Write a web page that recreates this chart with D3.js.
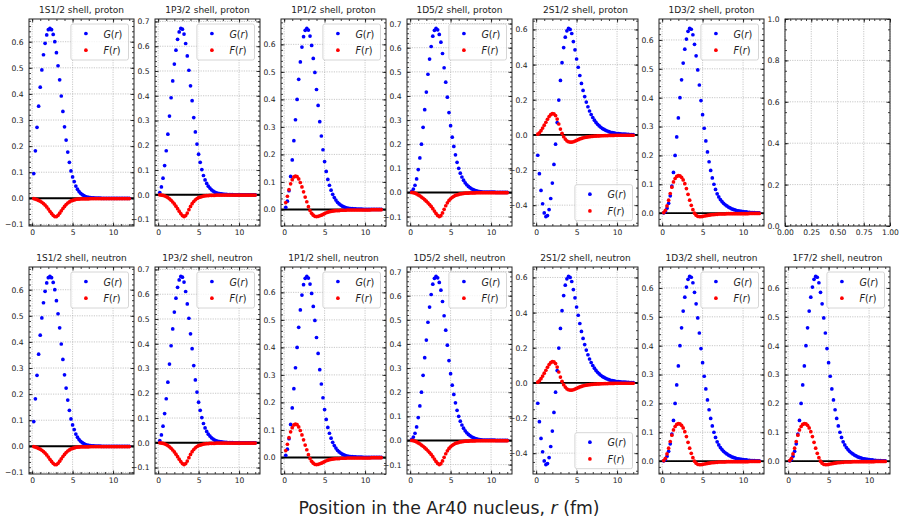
<!DOCTYPE html>
<html>
<head>
<meta charset="utf-8">
<script src="https://cdn.jsdelivr.net/npm/d3@7"></script>
<style>
  body { margin: 0; background: #fff; }
  svg { display: block; }
  text { font-family: "DejaVu Sans", sans-serif; fill: #222; }
</style>
</head>
<body>
<svg id="chart" width="901" height="518"></svg>
<script>
// radial grid (fm)
const r = [0.2,0.4,0.6,0.8,1.0,1.2,1.4,1.6,1.8,2.0,
  2.2,2.4,2.6,2.8,3.0,3.2,3.4,3.6,3.8,4.0,
  4.2,4.4,4.6,4.8,5.0,5.2,5.4,5.6,5.8,6.0,
  6.2,6.4,6.6,6.8,7.0,7.2,7.4,7.6,7.8,8.0,
  8.2,8.4,8.6,8.8,9.0,9.2,9.4,9.6,9.8,10.0,
  10.2,10.4,10.6,10.8,11.0,11.2,11.4,11.6,11.8,12.0];

// 1S1/2
const g1s12 = [0.095,0.182,0.272,0.353,0.426,0.492,0.550,0.594,0.626,0.646,
  0.651,0.646,0.628,0.600,0.558,0.508,0.454,0.392,0.333,0.274,
  0.223,0.177,0.138,0.105,0.082,0.064,0.047,0.035,0.026,0.019,
  0.014,0.010,0.007,0.005,0.004,0.003,0.002,0.002,0.001,0.001,
  0.001,0.001,0,0,0,0,0,0,0,0,
  0,0,0,0,0,0,0,0,0,0];
const f1s12 = [-0.001,-0.003,-0.005,-0.008,-0.011,-0.015,-0.020,-0.026,-0.033,-0.041,
  -0.050,-0.058,-0.065,-0.070,-0.070,-0.065,-0.057,-0.048,-0.039,-0.031,
  -0.024,-0.018,-0.014,-0.010,-0.008,-0.006,-0.004,-0.003,-0.003,-0.002,
  -0.002,-0.002,-0.002,-0.002,-0.002,-0.001,-0.001,-0.001,-0.001,-0.001,
  -0.001,-0.001,-0.001,-0.001,-0.001,-0.001,-0.001,-0.001,-0.001,-0.001,
  -0.001,-0.001,-0.001,-0.001,-0.001,-0.001,-0.001,-0.001,-0.001,-0.001];

// 1P3/2
const g1p32 = [0.009,0.032,0.067,0.118,0.178,0.245,0.318,0.392,0.460,0.528,
  0.584,0.628,0.658,0.672,0.669,0.649,0.611,0.561,0.503,0.440,
  0.380,0.312,0.254,0.205,0.164,0.131,0.102,0.078,0.060,0.046,
  0.035,0.027,0.020,0.015,0.011,0.008,0.006,0.005,0.004,0.003,
  0.002,0.002,0.001,0.001,0.001,0.001,0,0,0,0,
  0,0,0,0,0,0,0,0,0,0];
const f1p32 = [0,-0.001,-0.002,-0.004,-0.007,-0.011,-0.016,-0.022,-0.029,-0.037,
  -0.046,-0.056,-0.066,-0.076,-0.084,-0.088,-0.084,-0.074,-0.060,-0.047,
  -0.036,-0.027,-0.020,-0.015,-0.011,-0.009,-0.007,-0.005,-0.004,-0.003,
  -0.003,-0.002,-0.002,-0.002,-0.002,-0.001,-0.001,-0.001,-0.001,-0.001,
  -0.001,-0.001,-0.001,-0.001,-0.001,-0.001,-0.001,-0.001,-0.001,-0.001,
  -0.001,-0.001,-0.001,-0.001,-0.001,-0.001,-0.001,-0.001,-0.001,-0.001];

// 1P1/2
const g1p12 = [0.008,0.030,0.068,0.120,0.180,0.250,0.326,0.400,0.473,0.536,
  0.590,0.628,0.651,0.658,0.652,0.630,0.596,0.549,0.498,0.436,
  0.378,0.319,0.267,0.217,0.174,0.138,0.109,0.088,0.070,0.055,
  0.043,0.034,0.026,0.020,0.016,0.012,0.009,0.007,0.005,0.004,
  0.003,0.003,0.002,0.002,0.001,0.001,0.001,0.001,0,0,
  0,0,0,0,0,0,0,0,0,0];
const f1p12 = [0.025,0.048,0.072,0.093,0.108,0.118,0.121,0.119,0.111,0.098,
  0.082,0.064,0.045,0.028,0.010,-0.004,-0.014,-0.021,-0.025,-0.026,
  -0.025,-0.023,-0.021,-0.018,-0.015,-0.012,-0.010,-0.008,-0.007,-0.006,
  -0.005,-0.004,-0.004,-0.004,-0.003,-0.003,-0.003,-0.003,-0.002,-0.002,
  -0.002,-0.002,-0.002,-0.002,-0.002,-0.002,-0.002,-0.002,-0.002,-0.002,
  -0.002,-0.002,-0.002,-0.001,-0.001,-0.001,-0.001,-0.001,-0.001,-0.001];

// 1D5/2
const g1d52 = [0.005,0.014,0.030,0.056,0.095,0.143,0.200,0.270,0.343,0.416,
  0.490,0.553,0.605,0.648,0.672,0.680,0.674,0.655,0.623,0.576,
  0.517,0.457,0.395,0.331,0.277,0.229,0.191,0.156,0.125,0.100,
  0.080,0.064,0.051,0.040,0.032,0.025,0.020,0.015,0.012,0.009,
  0.007,0.005,0.004,0.003,0.002,0.002,0.002,0.001,0.001,0.001,
  0.001,0.001,0,0,0,0,0,0,0,0];
const f1d52 = [0,-0.001,-0.003,-0.006,-0.010,-0.014,-0.019,-0.024,-0.030,-0.036,
  -0.043,-0.050,-0.058,-0.067,-0.077,-0.087,-0.095,-0.100,-0.096,-0.085,
  -0.070,-0.055,-0.043,-0.033,-0.026,-0.020,-0.016,-0.012,-0.010,-0.008,
  -0.006,-0.005,-0.004,-0.003,-0.003,-0.003,-0.002,-0.002,-0.002,-0.002,
  -0.001,-0.001,-0.001,-0.001,-0.001,-0.001,-0.001,-0.001,-0.001,-0.001,
  -0.001,-0.001,-0.001,-0.001,-0.001,-0.001,-0.001,-0.001,-0.001,-0.001];

// 2S1/2
const g2s12 = [-0.116,-0.221,-0.316,-0.392,-0.444,-0.465,-0.459,-0.425,-0.362,-0.274,
  -0.168,-0.053,0.070,0.198,0.310,0.411,0.497,0.556,0.592,0.606,
  0.600,0.577,0.531,0.484,0.432,0.385,0.338,0.293,0.253,0.218,
  0.187,0.160,0.136,0.116,0.099,0.084,0.071,0.060,0.051,0.043,
  0.036,0.031,0.026,0.022,0.018,0.015,0.013,0.011,0.009,0.008,
  0.007,0.006,0.005,0.004,0.004,0.003,0.003,0.002,0.002,0.002];
const f2s12 = [0.004,0.012,0.024,0.039,0.055,0.072,0.089,0.104,0.115,0.121,
  0.120,0.110,0.090,0.062,0.033,0.009,-0.010,-0.024,-0.034,-0.039,
  -0.041,-0.041,-0.039,-0.035,-0.031,-0.027,-0.023,-0.020,-0.017,-0.015,
  -0.013,-0.011,-0.010,-0.009,-0.008,-0.007,-0.007,-0.006,-0.006,-0.005,
  -0.005,-0.004,-0.004,-0.004,-0.003,-0.003,-0.003,-0.003,-0.002,-0.002,
  -0.002,-0.002,-0.002,-0.002,-0.002,-0.002,-0.002,-0.002,-0.002,-0.002];

// 1D3/2
const g1d32 = [0.001,0.006,0.017,0.034,0.060,0.094,0.141,0.200,0.264,0.330,
  0.400,0.462,0.520,0.568,0.603,0.630,0.640,0.637,0.618,0.585,
  0.545,0.496,0.444,0.390,0.341,0.294,0.250,0.212,0.178,0.148,
  0.122,0.100,0.082,0.067,0.056,0.047,0.040,0.034,0.029,0.025,
  0.021,0.018,0.015,0.013,0.011,0.009,0.008,0.007,0.006,0.005,
  0.004,0.004,0.003,0.003,0.002,0.002,0.002,0.001,0.001,0.001];
const f1d32 = [0.002,0.010,0.025,0.045,0.068,0.090,0.108,0.120,0.127,0.130,
  0.129,0.124,0.115,0.102,0.085,0.065,0.045,0.027,0.012,0.000,
  -0.007,-0.011,-0.012,-0.012,-0.011,-0.010,-0.009,-0.008,-0.007,-0.006,
  -0.005,-0.005,-0.004,-0.004,-0.003,-0.003,-0.003,-0.003,-0.003,-0.002,
  -0.002,-0.002,-0.002,-0.002,-0.002,-0.002,-0.002,-0.002,-0.002,-0.002,
  -0.002,-0.002,-0.002,-0.001,-0.001,-0.001,-0.001,-0.001,-0.001,-0.001];

// panels: proton row has an empty 7th axes, neutron row has 1F7/2
// (the neutron curves read the same as the proton ones; 1F7/2 repeats 1D3/2)
const protonShells = ["1S1/2", "1P3/2", "1P1/2", "1D5/2", "2S1/2", "1D3/2"];
const neutronShells = ["1S1/2", "1P3/2", "1P1/2", "1D5/2", "2S1/2", "1D3/2", "1F7/2"];
const protonG = [g1s12, g1p32, g1p12, g1d52, g2s12, g1d32];
const protonF = [f1s12, f1p32, f1p12, f1d52, f2s12, f1d32];
const neutronG = [g1s12, g1p32, g1p12, g1d52, g2s12, g1d32, g1d32];
const neutronF = [f1s12, f1p32, f1p12, f1d52, f2s12, f1d32, f1d32];
const yStepByShell = { "2S1/2": 0.2 };
const legendLowerShells = ["2S1/2"];

const xTickValues = [0, 5, 10];
const emptyXTicks = [0, 0.25, 0.5, 0.75, 1.0];
const emptyYTicks = [0, 0.2, 0.4, 0.6, 0.8, 1.0];

const xLabel = "Position in the Ar40 nucleus, ";

// layout
const colLeft0 = 29, colStep = 126, plotW = 105, plotH = 207;
const rowTops = [19, 267];
const dotR = 1.85;

const svg = d3.select("#chart");

function padded(lo, hi) {
  const m = (hi - lo) * 0.05;
  return [lo - m, hi + m];
}

function stepTicks(domain, step) {
  const out = [];
  const start = Math.ceil(domain[0] / step - 1e-9);
  for (let k = start; k * step <= domain[1] + 1e-9; k++) out.push(+(k * step).toFixed(6));
  return out;
}

function styleAxis(sel, fontSize) {
  sel.select(".domain").remove();
  sel.selectAll(".tick line").attr("stroke", "#111").attr("stroke-width", 0.8);
  sel.attr("font-family", null).attr("font-size", null);
  sel.selectAll("text").attr("font-size", fontSize).attr("fill", "#222");
}

function drawAxes(g, x, y, xMajor, xMinor, yMajor, yMinor, xFmt, yFmt) {
  // grid
  g.append("g").selectAll("line").data(xMajor).join("line")
    .attr("x1", d => x(d)).attr("x2", d => x(d))
    .attr("y1", 0).attr("y2", plotH)
    .attr("stroke", "#b0b0b0").attr("stroke-width", 0.7).attr("stroke-dasharray", "1.2,1.2");
  g.append("g").selectAll("line").data(yMajor).join("line")
    .attr("y1", d => y(d)).attr("y2", d => y(d))
    .attr("x1", 0).attr("x2", plotW)
    .attr("stroke", "#b0b0b0").attr("stroke-width", 0.7).attr("stroke-dasharray", "1.2,1.2");

  const ax = [
    [d3.axisBottom(x).tickValues(xMajor).tickFormat(xFmt).tickSizeInner(-3.5).tickPadding(3.5), `translate(0,${plotH})`],
    [d3.axisBottom(x).tickValues(xMinor).tickFormat("").tickSizeInner(-2), `translate(0,${plotH})`],
    [d3.axisTop(x).tickValues(xMajor).tickFormat("").tickSizeInner(-3.5), "translate(0,0)"],
    [d3.axisTop(x).tickValues(xMinor).tickFormat("").tickSizeInner(-2), "translate(0,0)"],
    [d3.axisLeft(y).tickValues(yMajor).tickFormat(yFmt).tickSizeInner(-3.5).tickPadding(5.5), "translate(0,0)"],
    [d3.axisLeft(y).tickValues(yMinor).tickFormat("").tickSizeInner(-2), "translate(0,0)"],
    [d3.axisRight(y).tickValues(yMajor).tickFormat("").tickSizeInner(-3.5), `translate(${plotW},0)`],
    [d3.axisRight(y).tickValues(yMinor).tickFormat("").tickSizeInner(-2), `translate(${plotW},0)`]
  ];
  ax.forEach(([axis, tr]) => {
    g.append("g").attr("transform", tr).call(axis.tickSizeOuter(0)).call(s => styleAxis(s, 7.6));
  });
}

function drawFrame(g) {
  g.append("rect").attr("width", plotW).attr("height", plotH)
    .attr("fill", "none").attr("stroke", "#222").attr("stroke-width", 1);
}

function drawTitle(g, text) {
  g.append("text").attr("x", plotW / 2).attr("y", -6)
    .attr("text-anchor", "middle").attr("font-size", 9).text(text);
}

function drawLegend(g, lower) {
  const lw = 57.6, lh = 36;
  const lg = g.append("g")
    .attr("transform", `translate(${plotW - 5.5 - lw},${lower ? plotH - 5.3 - lh : 5})`);
  lg.append("rect").attr("width", lw).attr("height", lh).attr("rx", 2)
    .attr("fill", "#fff").attr("fill-opacity", 0.8)
    .attr("stroke", "#cccccc").attr("stroke-width", 0.8);
  const entries = [{ c: "blue", s: "G" }, { c: "red", s: "F" }];
  entries.forEach((e, i) => {
    const cy = 9.5 + i * 16.7;
    lg.append("circle").attr("cx", 15).attr("cy", cy).attr("r", dotR).attr("fill", e.c);
    const t = lg.append("text").attr("x", 32.5).attr("y", cy)
      .attr("dominant-baseline", "central").attr("font-size", 9.6);
    t.append("tspan").attr("font-style", "italic").text(e.s);
    t.append("tspan").text("(");
    t.append("tspan").attr("font-style", "italic").text("r");
    t.append("tspan").text(")");
  });
}

function drawPanel(col, row, shell, nucleon, G, F) {
  const g = svg.append("g")
    .attr("transform", `translate(${colLeft0 + col * colStep},${rowTops[row]})`);

  const x = d3.scaleLinear().domain(padded(d3.min(r), d3.max(r))).range([0, plotW]);
  const all = G.concat(F);
  const y = d3.scaleLinear().domain(padded(d3.min(all), d3.max(all))).range([plotH, 0]);

  const yStep = yStepByShell[shell] || 0.1;
  const yMajor = stepTicks(y.domain(), yStep);
  const yMinor = stepTicks(y.domain(), yStep === 0.2 ? 0.05 : 0.02);
  const xMinor = stepTicks(x.domain(), 1);

  drawAxes(g, x, y, xTickValues, xMinor, yMajor, yMinor, d3.format("d"), d3.format(".1f"));

  g.append("line").attr("x1", 0).attr("x2", plotW)
    .attr("y1", y(0)).attr("y2", y(0))
    .attr("stroke", "#000").attr("stroke-width", 1.9);

  g.append("g").selectAll("circle").data(d3.zip(r, G)).join("circle")
    .attr("cx", d => x(d[0])).attr("cy", d => y(d[1])).attr("r", dotR).attr("fill", "blue");
  g.append("g").selectAll("circle").data(d3.zip(r, F)).join("circle")
    .attr("cx", d => x(d[0])).attr("cy", d => y(d[1])).attr("r", dotR).attr("fill", "red");

  drawFrame(g);
  drawTitle(g, `${shell} shell, ${nucleon}`);
  drawLegend(g, legendLowerShells.includes(shell));
}

function drawEmptyPanel(col, row) {
  const g = svg.append("g")
    .attr("transform", `translate(${colLeft0 + col * colStep},${rowTops[row]})`);
  const x = d3.scaleLinear().domain([0, 1]).range([0, plotW]);
  const y = d3.scaleLinear().domain([0, 1]).range([plotH, 0]);
  drawAxes(g, x, y, emptyXTicks, stepTicks([0, 1], 0.05), emptyYTicks, stepTicks([0, 1], 0.05),
    d3.format(".2f"), d3.format(".1f"));
  drawFrame(g);
}

protonShells.forEach((s, i) => drawPanel(i, 0, s, "proton", protonG[i], protonF[i]));
drawEmptyPanel(6, 0);
neutronShells.forEach((s, i) => drawPanel(i, 1, s, "neutron", neutronG[i], neutronF[i]));

// shared x label
const lab = svg.append("text").attr("x", 449).attr("y", 514)
  .attr("text-anchor", "middle").attr("font-size", 17.3);
lab.append("tspan").text(xLabel);
lab.append("tspan").attr("font-style", "italic").text("r");
lab.append("tspan").text(" (fm)");
</script>
</body>
</html>
